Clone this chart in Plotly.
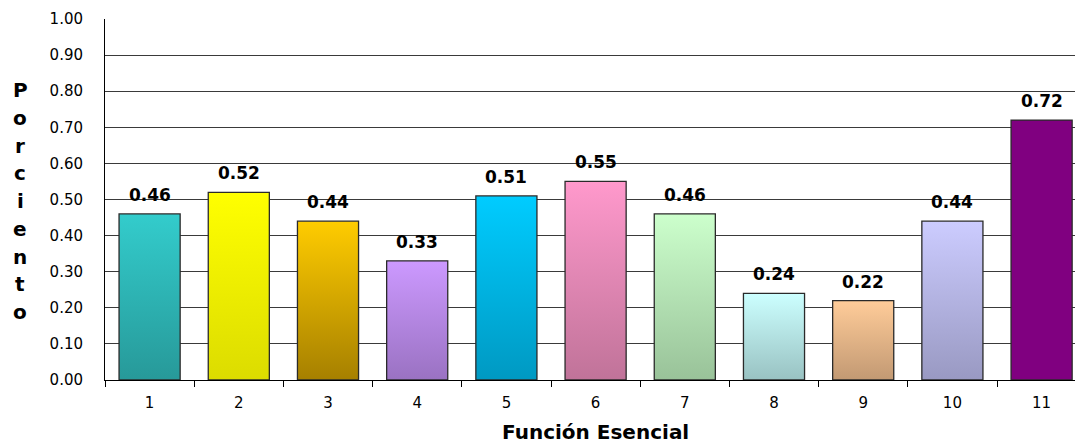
import plotly.graph_objects as go

# Funciones esenciales y porcentaje alcanzado
funciones = [1, 2, 3, 4, 5, 6, 7, 8, 9, 10, 11]
porcentajes = [0.46, 0.52, 0.44, 0.33, 0.51, 0.55, 0.46, 0.24, 0.22, 0.44, 0.72]
colores_sup = ["#33CCCC", "#FFFF00", "#FFCC00", "#CC99FF", "#00CCFF", "#FF99CC",
               "#CCFFCC", "#CCFFFF", "#FFCC99", "#CCCCFF", "#800080"]
colores_inf = ["#279999", "#DCDC00", "#A68000", "#9A72C2", "#0099C2", "#C07399",
               "#99C299", "#99C2C2", "#C29973", "#9999C2", "#800080"]
titulo_y = "Porciento"
titulo_x = "Función Esencial"

FONT = "DejaVu Sans, Arial, sans-serif"
ancho = 0.685

fig = go.Figure()
for f, v, cs, ci in zip(funciones, porcentajes, colores_sup, colores_inf):
    x0, x1 = f - ancho / 2, f + ancho / 2
    fig.add_trace(go.Scatter(
        x=[x0, x1, x1, x0, x0], y=[0, 0, v, v, 0],
        mode="lines", fill="toself",
        fillgradient=dict(type="vertical", colorscale=[[0, ci], [1, cs]]),
        line=dict(color="#2a2a2a", width=1.3),
        hoverinfo="skip", showlegend=False,
    ))
    fig.add_annotation(x=f, y=v, text=f"<b>{v:.2f}</b>", showarrow=False,
                       yanchor="bottom", yshift=7,
                       font=dict(family=FONT, size=17, color="black"))

# Título vertical del eje Y, letra por letra
for i, letra in enumerate(titulo_y):
    fig.add_annotation(x=-85 / 970, y=(380 - (90 + i * 27.75)) / 361,
                       xref="paper", yref="paper", xanchor="center", yanchor="middle",
                       text=f"<b>{letra}</b>", showarrow=False,
                       font=dict(family=FONT, size=20, color="black"))

fig.add_annotation(x=6, y=(380 - 432) / 361, xref="x", yref="paper",
                   text=f"<b>{titulo_x}</b>", showarrow=False,
                   xanchor="center", yanchor="middle",
                   font=dict(family=FONT, size=20, color="black"))

fig.update_layout(
    width=1075, height=444,
    margin=dict(l=105, r=0, t=19, b=64),
    paper_bgcolor="white", plot_bgcolor="white",
    font=dict(family=FONT, size=15, color="black"),
    xaxis=dict(
        range=[0.5, 0.5 + 970 / 89.2],
        tickmode="array", tickvals=funciones, ticktext=[str(f) for f in funciones],
        ticks="", showgrid=False, zeroline=False,
        showline=True, linecolor="black", linewidth=1,
        minor=dict(tickmode="linear", tick0=0.5, dtick=1, ticks="outside",
                   ticklen=6, tickcolor="black", showgrid=False),
        ticklabelstandoff=9,
        tickfont=dict(family=FONT, size=15),
    ),
    yaxis=dict(
        range=[0, 1], dtick=0.1, tick0=0, tickformat=".2f",
        showgrid=True, gridcolor="#3a3a3a", gridwidth=1,
        zeroline=False, showline=True, linecolor="black", linewidth=1,
        ticks="", ticklabelstandoff=18,
        tickfont=dict(family=FONT, size=15),
    ),
)

fig.write_html("out.html")
